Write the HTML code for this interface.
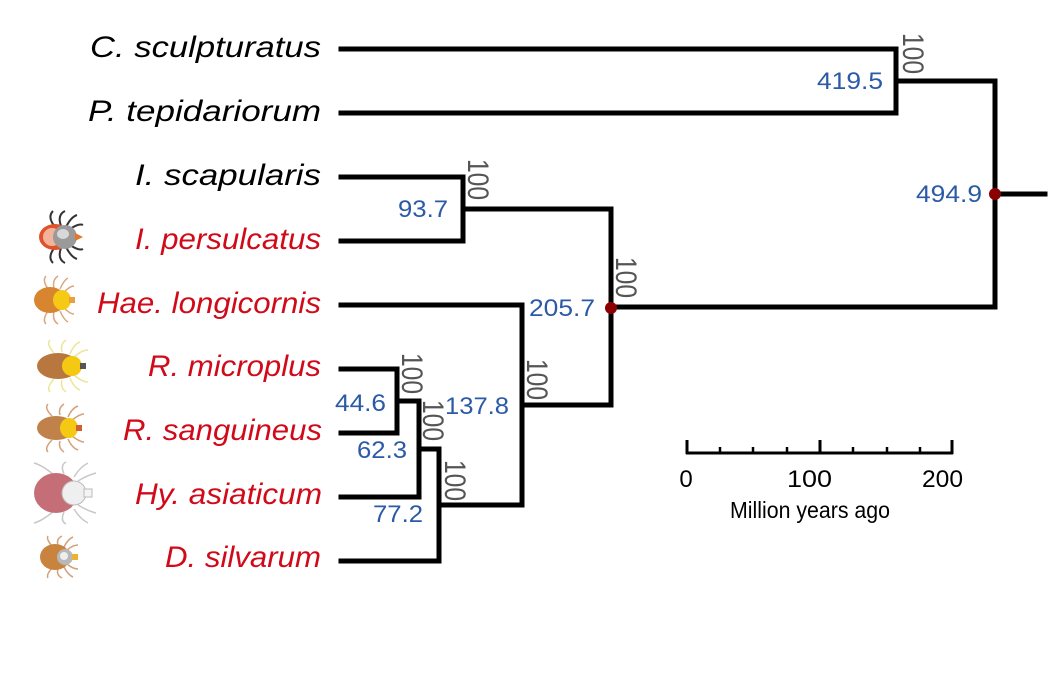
<!DOCTYPE html>
<html>
<head>
<meta charset="utf-8">
<style>
  html,body{margin:0;padding:0;background:#fff;}
  svg{display:block;}
  .sp{font-family:"Liberation Sans",Arial,sans-serif;font-style:italic;font-size:30px;}
  .blk{fill:#000;}
  .red{fill:#d10a1a;}
  .age{font-family:"Liberation Sans",Arial,sans-serif;font-size:24px;fill:#2b5aa6;}
  .bs{font-family:"Liberation Sans",Arial,sans-serif;font-size:30px;fill:#555;}
  .ax{font-family:"Liberation Sans",Arial,sans-serif;fill:#000;}
</style>
</head>
<body>
<svg width="1055" height="679" viewBox="0 0 1055 679" xmlns="http://www.w3.org/2000/svg">
  <rect width="1055" height="679" fill="#fff"/>

  <!-- tree branches -->
  <g stroke="#000" stroke-width="5" fill="none" stroke-linecap="square" stroke-linejoin="miter">
    <line x1="341" y1="49" x2="896" y2="49"/>
    <line x1="341" y1="113" x2="896" y2="113"/>
    <line x1="341" y1="177" x2="463" y2="177"/>
    <line x1="341" y1="241" x2="463" y2="241"/>
    <line x1="341" y1="305" x2="522" y2="305"/>
    <line x1="341" y1="369" x2="397" y2="369"/>
    <line x1="341" y1="433" x2="397" y2="433"/>
    <line x1="341" y1="497" x2="419" y2="497"/>
    <line x1="341" y1="561" x2="439" y2="561"/>
    <line x1="896" y1="49" x2="896" y2="113"/>
    <line x1="896" y1="81" x2="995" y2="81"/>
    <line x1="463" y1="177" x2="463" y2="241"/>
    <line x1="463" y1="209" x2="611" y2="209"/>
    <line x1="397" y1="369" x2="397" y2="433"/>
    <line x1="397" y1="401" x2="419" y2="401"/>
    <line x1="419" y1="401" x2="419" y2="497"/>
    <line x1="419" y1="449" x2="439" y2="449"/>
    <line x1="439" y1="449" x2="439" y2="561"/>
    <line x1="439" y1="505" x2="522" y2="505"/>
    <line x1="522" y1="305" x2="522" y2="505"/>
    <line x1="522" y1="405" x2="611" y2="405"/>
    <line x1="611" y1="209" x2="611" y2="405"/>
    <line x1="611" y1="307" x2="995" y2="307"/>
    <line x1="995" y1="81" x2="995" y2="307"/>
    <line x1="995" y1="194" x2="1045" y2="194"/>
  </g>
  <circle cx="611" cy="308" r="6" fill="#8b0000"/>
  <circle cx="995" cy="194" r="6" fill="#8b0000"/>

  <!-- species labels -->
  <text class="sp blk" x="90" y="57" textLength="231" lengthAdjust="spacingAndGlyphs">C. sculpturatus</text>
  <text class="sp blk" x="88" y="121" textLength="233" lengthAdjust="spacingAndGlyphs">P. tepidariorum</text>
  <text class="sp blk" x="135" y="185" textLength="186" lengthAdjust="spacingAndGlyphs">I. scapularis</text>
  <text class="sp red" x="135" y="249" textLength="186" lengthAdjust="spacingAndGlyphs">I. persulcatus</text>
  <text class="sp red" x="97" y="313" textLength="224" lengthAdjust="spacingAndGlyphs">Hae. longicornis</text>
  <text class="sp red" x="148" y="376" textLength="173" lengthAdjust="spacingAndGlyphs">R. microplus</text>
  <text class="sp red" x="123" y="440" textLength="199" lengthAdjust="spacingAndGlyphs">R. sanguineus</text>
  <text class="sp red" x="135" y="504" textLength="187" lengthAdjust="spacingAndGlyphs">Hy. asiaticum</text>
  <text class="sp red" x="165" y="567" textLength="156" lengthAdjust="spacingAndGlyphs">D. silvarum</text>

  <!-- node ages -->
  <text class="age" x="817" y="89" textLength="66" lengthAdjust="spacingAndGlyphs">419.5</text>
  <text class="age" x="916" y="202" textLength="66" lengthAdjust="spacingAndGlyphs">494.9</text>
  <text class="age" x="398" y="217" textLength="50" lengthAdjust="spacingAndGlyphs">93.7</text>
  <text class="age" x="529" y="316" textLength="66" lengthAdjust="spacingAndGlyphs">205.7</text>
  <text class="age" x="445" y="414" textLength="64" lengthAdjust="spacingAndGlyphs">137.8</text>
  <text class="age" x="335" y="411" textLength="51" lengthAdjust="spacingAndGlyphs">44.6</text>
  <text class="age" x="357" y="458" textLength="50" lengthAdjust="spacingAndGlyphs">62.3</text>
  <text class="age" x="373" y="522" textLength="50" lengthAdjust="spacingAndGlyphs">77.2</text>

  <!-- bootstrap values (rotated) -->
  <text class="bs" transform="translate(903,33) rotate(90)" textLength="41" lengthAdjust="spacingAndGlyphs">100</text>
  <text class="bs" transform="translate(468,159) rotate(90)" textLength="41" lengthAdjust="spacingAndGlyphs">100</text>
  <text class="bs" transform="translate(616,257) rotate(90)" textLength="41" lengthAdjust="spacingAndGlyphs">100</text>
  <text class="bs" transform="translate(527,359) rotate(90)" textLength="41" lengthAdjust="spacingAndGlyphs">100</text>
  <text class="bs" transform="translate(402,353) rotate(90)" textLength="41" lengthAdjust="spacingAndGlyphs">100</text>
  <text class="bs" transform="translate(423,400) rotate(90)" textLength="41" lengthAdjust="spacingAndGlyphs">100</text>
  <text class="bs" transform="translate(445,460) rotate(90)" textLength="41" lengthAdjust="spacingAndGlyphs">100</text>

  <!-- scale bar -->
  <g stroke="#000" fill="none">
    <line x1="686" y1="453" x2="953" y2="453" stroke-width="3"/>
    <line x1="687" y1="440" x2="687" y2="454" stroke-width="3"/>
    <line x1="820" y1="440" x2="820" y2="454" stroke-width="3"/>
    <line x1="952" y1="440" x2="952" y2="454" stroke-width="3"/>
    <line x1="720" y1="447" x2="720" y2="453" stroke-width="2.5"/>
    <line x1="753" y1="447" x2="753" y2="453" stroke-width="2.5"/>
    <line x1="787" y1="447" x2="787" y2="453" stroke-width="2.5"/>
    <line x1="853" y1="447" x2="853" y2="453" stroke-width="2.5"/>
    <line x1="887" y1="447" x2="887" y2="453" stroke-width="2.5"/>
    <line x1="920" y1="447" x2="920" y2="453" stroke-width="2.5"/>
  </g>
  <text class="ax" x="686" y="487" font-size="24" text-anchor="middle">0</text>
  <text class="ax" x="787" y="487" font-size="24" textLength="45" lengthAdjust="spacingAndGlyphs">100</text>
  <text class="ax" x="922" y="487" font-size="24" textLength="41" lengthAdjust="spacingAndGlyphs">200</text>
  <text class="ax" x="730" y="518" font-size="23" textLength="160" lengthAdjust="spacingAndGlyphs">Million years ago</text>

  <!-- tick icons -->
  <g transform="translate(61,237)">
    <g stroke="#333" stroke-width="2" fill="none">
      <path d="M-6,-10 Q-14,-20 -8,-26"/><path d="M0,-11 Q-4,-22 4,-26"/><path d="M5,-10 Q10,-20 16,-22"/><path d="M9,-8 Q18,-14 22,-12"/>
      <path d="M-6,10 Q-14,20 -8,26"/><path d="M0,11 Q-4,22 4,26"/><path d="M5,10 Q10,20 16,22"/><path d="M9,8 Q18,14 22,12"/>
    </g>
    <ellipse cx="-6" cy="0" rx="16" ry="13" fill="#e0532a"/>
    <ellipse cx="-9" cy="0" rx="9" ry="9" fill="#f3b39a"/>
    <ellipse cx="4" cy="0" rx="12" ry="12" fill="#9a9a9a"/>
    <ellipse cx="2" cy="-3" rx="6" ry="5" fill="#d8d8d8"/>
    <path d="M14,-4 L22,0 L14,4 Z" fill="#e07a2a"/>
  </g>
  <g transform="translate(54,300)">
    <g stroke="#d9a680" stroke-width="1.5" fill="none">
      <path d="M-6,-11 Q-12,-20 -8,-24"/><path d="M0,-12 Q-2,-20 4,-24"/><path d="M6,-11 Q10,-20 14,-22"/><path d="M10,-8 Q16,-14 20,-14"/>
      <path d="M-6,11 Q-12,20 -8,24"/><path d="M0,12 Q-2,20 4,24"/><path d="M6,11 Q10,20 14,22"/><path d="M10,8 Q16,14 20,14"/>
    </g>
    <ellipse cx="-4" cy="0" rx="16" ry="13" fill="#d88530"/>
    <ellipse cx="8" cy="0" rx="9" ry="10" fill="#f6c915"/>
    <rect x="15" y="-3" width="6" height="6" fill="#e8a040"/>
  </g>
  <g transform="translate(62,366)">
    <g stroke="#ece59a" stroke-width="1.5" fill="none">
      <path d="M-8,-13 Q-16,-22 -12,-26"/><path d="M0,-14 Q-2,-22 4,-26"/><path d="M8,-12 Q12,-22 18,-24"/><path d="M12,-9 Q20,-16 26,-16"/>
      <path d="M-8,13 Q-16,22 -12,26"/><path d="M0,14 Q-2,22 4,26"/><path d="M8,12 Q12,22 18,24"/><path d="M12,9 Q20,16 26,16"/>
    </g>
    <ellipse cx="-4" cy="0" rx="21" ry="13" fill="#b8773e"/>
    <ellipse cx="10" cy="0" rx="10" ry="10" fill="#f5c814"/>
    <rect x="18" y="-3" width="6" height="6" fill="#555"/>
  </g>
  <g transform="translate(60,428)">
    <g stroke="#d4a07a" stroke-width="1.5" fill="none">
      <path d="M-8,-12 Q-16,-20 -12,-24"/><path d="M0,-13 Q-2,-20 4,-24"/><path d="M8,-11 Q12,-20 18,-22"/><path d="M12,-8 Q20,-14 24,-14"/>
      <path d="M-8,12 Q-16,20 -12,24"/><path d="M0,13 Q-2,20 4,24"/><path d="M8,11 Q12,20 18,22"/><path d="M12,8 Q20,14 24,14"/>
    </g>
    <ellipse cx="-4" cy="0" rx="19" ry="12" fill="#c0824a"/>
    <ellipse cx="9" cy="0" rx="9" ry="10" fill="#f5c814"/>
    <rect x="16" y="-3" width="6" height="6" fill="#d06030"/>
  </g>
  <g transform="translate(64,493)">
    <g stroke="#c8c8c8" stroke-width="1.5" fill="none">
      <path d="M-10,-18 Q-22,-28 -30,-30"/><path d="M0,-19 Q-4,-28 2,-31"/><path d="M10,-16 Q16,-26 24,-30"/><path d="M14,-12 Q24,-18 32,-20"/>
      <path d="M-10,18 Q-22,28 -30,30"/><path d="M0,19 Q-4,28 2,31"/><path d="M10,16 Q16,26 24,30"/><path d="M14,12 Q24,18 32,20"/>
    </g>
    <ellipse cx="-8" cy="0" rx="22" ry="20" fill="#c56e78"/>
    <ellipse cx="10" cy="0" rx="12" ry="12" fill="#efefef" stroke="#bbb" stroke-width="1"/>
    <rect x="20" y="-4" width="8" height="8" fill="#f4f4f4" stroke="#bbb" stroke-width="1"/>
  </g>
  <g transform="translate(58,557)">
    <g stroke="#d4a07a" stroke-width="1.5" fill="none">
      <path d="M-6,-11 Q-12,-18 -10,-21"/><path d="M0,-12 Q-2,-18 4,-21"/><path d="M6,-10 Q10,-18 15,-20"/><path d="M9,-7 Q15,-12 20,-12"/>
      <path d="M-6,11 Q-12,18 -10,21"/><path d="M0,12 Q-2,18 4,21"/><path d="M6,10 Q10,18 15,20"/><path d="M9,7 Q15,12 20,12"/>
    </g>
    <ellipse cx="-3" cy="0" rx="15" ry="13" fill="#c8843e"/>
    <ellipse cx="7" cy="0" rx="8" ry="8" fill="#b8b8b8"/>
    <ellipse cx="6" cy="-1" rx="4" ry="4" fill="#eee"/>
    <rect x="14" y="-3" width="6" height="6" fill="#f0b030"/>
  </g>
</svg>
</body>
</html>
